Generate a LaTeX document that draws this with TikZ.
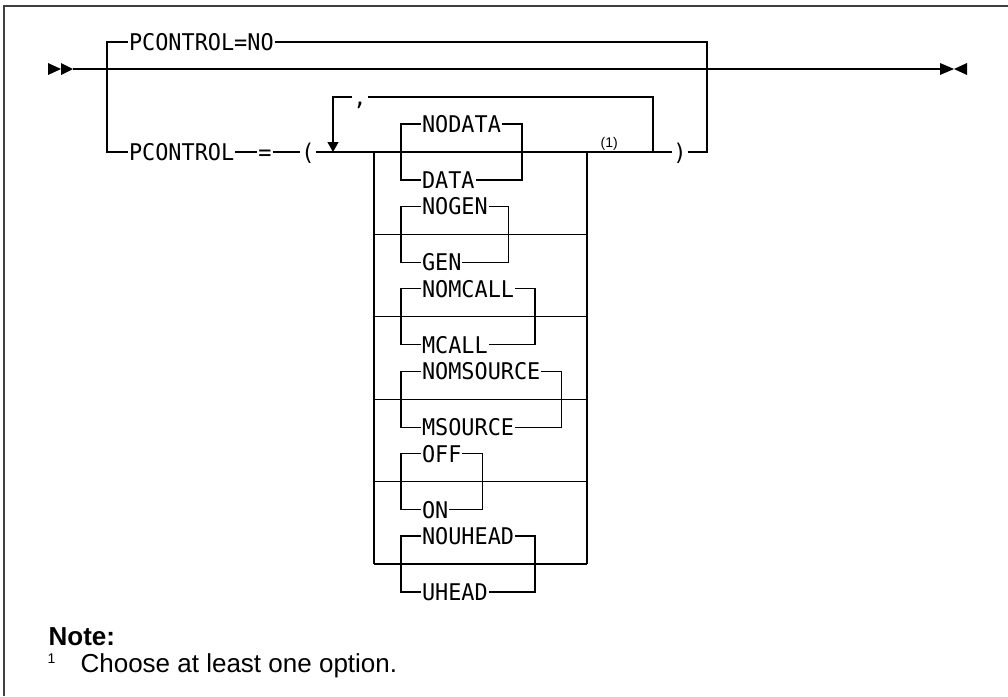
\documentclass[tikz,border=0pt]{standalone}
\usepackage{fontspec}
\setmainfont{Liberation Sans}
\newfontfamily\synfont[FakeStretch=0.95]{DejaVu Sans Mono}
\usepackage{tikz}
\usetikzlibrary{arrows.meta, positioning, calc}

\begin{document}
\begin{tikzpicture}[x=1pt, y=-1pt, line width=1.2pt,
    kw/.style={font=\synfont\fontsize{23pt}{23pt}\selectfont, inner sep=0pt, outer sep=1pt, text height=16.8pt, text depth=0pt, anchor=west},
    punct/.style={kw, anchor=center},
    fnref/.style={font=\fontsize{14pt}{14pt}\selectfont, inner sep=0pt, anchor=south west},
    notehead/.style={font=\bfseries\fontsize{26pt}{30pt}\selectfont, inner sep=0pt, anchor=base west},
    notetext/.style={font=\fontsize{26pt}{30pt}\selectfont, inner sep=0pt, anchor=base west},
    frame/.style={draw=black!75, line width=1.5pt}]

    \useasboundingbox (0,0) rectangle (1008,696);
    \draw [frame] (4,696) -- (4,6) -- (1008,6);

    % main line
    \coordinate (start) at (73,69);
    \coordinate (finish) at (940,69);
    \coordinate (splitL) at (107,69);
    \coordinate (joinR) at (707,69);
    \draw (start) -- (finish);
    \fill (start) -- ++(-12,-6) -- ++(0,12) -- cycle;
    \fill ($(start)+(-12,0)$) -- ++(-13,-6) -- ++(0,12) -- cycle;
    \fill (finish) -- ++(0,-6) -- ++(14,6) -- ++(-14,6) -- cycle;
    \fill ($(finish)+(27,0)$) -- ++(0,-6) -- ++(-13,6) -- ++(13,6) -- cycle;

    % default branch
    \node [kw] (pcno) at (128,42) {PCONTROL=NO};
    \draw (splitL) |- (pcno.west);
    \draw (pcno.east) -| (joinR);

    % option list branch
    \node [kw] (pc) at (128,152) {PCONTROL};
    \node [punct] (eq) at (265,152) {=};
    \node [punct] (lpar) at (308,152) {(};
    \node [punct] (rpar) at (680,152) {)};
    \coordinate (rep) at (333,152);
    \coordinate (loopR) at (653,152);
    \node [punct] (comma) at (360,97) {,};
    \draw (splitL) |- (pc.west);
    \draw (pc) -- (eq) -- (lpar);

    % stack rows
    \coordinate (s1L) at (374,152);   \coordinate (s1R) at (587,152);
    \coordinate (s2L) at (374,234.4); \coordinate (s2R) at (587,234.4);
    \coordinate (s3L) at (374,316.8); \coordinate (s3R) at (587,316.8);
    \coordinate (s4L) at (374,399.2); \coordinate (s4R) at (587,399.2);
    \coordinate (s5L) at (374,481.6); \coordinate (s5R) at (587,481.6);
    \coordinate (s6L) at (374,564);   \coordinate (s6R) at (587,564);

    \draw (lpar) -- (s1L);
    \draw (s1L) -- (s6L);
    \draw (s1R) -- (s6R);
    \draw (s1L) -- (s1R);
    \draw (s2L) -- (s2R);
    \draw (s3L) -- (s3R);
    \draw (s4L) -- (s4R);
    \draw (s5L) -- (s5R);
    \draw (s6L) -- (s6R);
    \draw (s1R) -- (rpar);
    \draw (rpar) -| (joinR);
    \node [fnref] (fn1) at (600,151) {(1)};

    % repeat loop
    \draw (loopR) |- (comma.east);
    \draw [-{Triangle[length=10pt, width=11pt]}] (comma.west) -| (rep);

    % choices
    \node [kw] (nodata) at (421,124) {NODATA};
    \node [kw] (data) at (421,180) {DATA};
    \node [kw] (nogen) at (421,206.4) {NOGEN};
    \node [kw] (gen) at (421,262.4) {GEN};
    \node [kw] (nomcall) at (421,288.8) {NOMCALL};
    \node [kw] (mcall) at (421,344.8) {MCALL};
    \node [kw] (nomsource) at (421,371.2) {NOMSOURCE};
    \node [kw] (msource) at (421,427.2) {MSOURCE};
    \node [kw] (off) at (421,453.6) {OFF};
    \node [kw] (on) at (421,509.6) {ON};
    \node [kw] (nouhead) at (421,536) {NOUHEAD};
    \node [kw] (uhead) at (421,592) {UHEAD};

    \draw (nodata.west) -- ++(-20,0) |- (data.west);
    \draw (nodata.east) -- ++(20,0) |- (data.east);
    \draw (nogen.west) -- ++(-20,0) |- (gen.west);
    \draw (nogen.east) -- ++(20,0) |- (gen.east);
    \draw (nomcall.west) -- ++(-20,0) |- (mcall.west);
    \draw (nomcall.east) -- ++(20,0) |- (mcall.east);
    \draw (nomsource.west) -- ++(-20,0) |- (msource.west);
    \draw (nomsource.east) -- ++(20,0) |- (msource.east);
    \draw (off.west) -- ++(-20,0) |- (on.west);
    \draw (off.east) -- ++(20,0) |- (on.east);
    \draw (nouhead.west) -- ++(-20,0) |- (uhead.west);
    \draw (nouhead.east) -- ++(20,0) |- (uhead.east);

    % note
    \node [notehead] (notehd) at (48,645) {Note:};
    \node [notetext, font=\fontsize{14pt}{14pt}\selectfont] (notenum) at (47,663) {1};
    \node [notetext] (notetx) at (80,672) {Choose at least one option.};
\end{tikzpicture}
\end{document}
